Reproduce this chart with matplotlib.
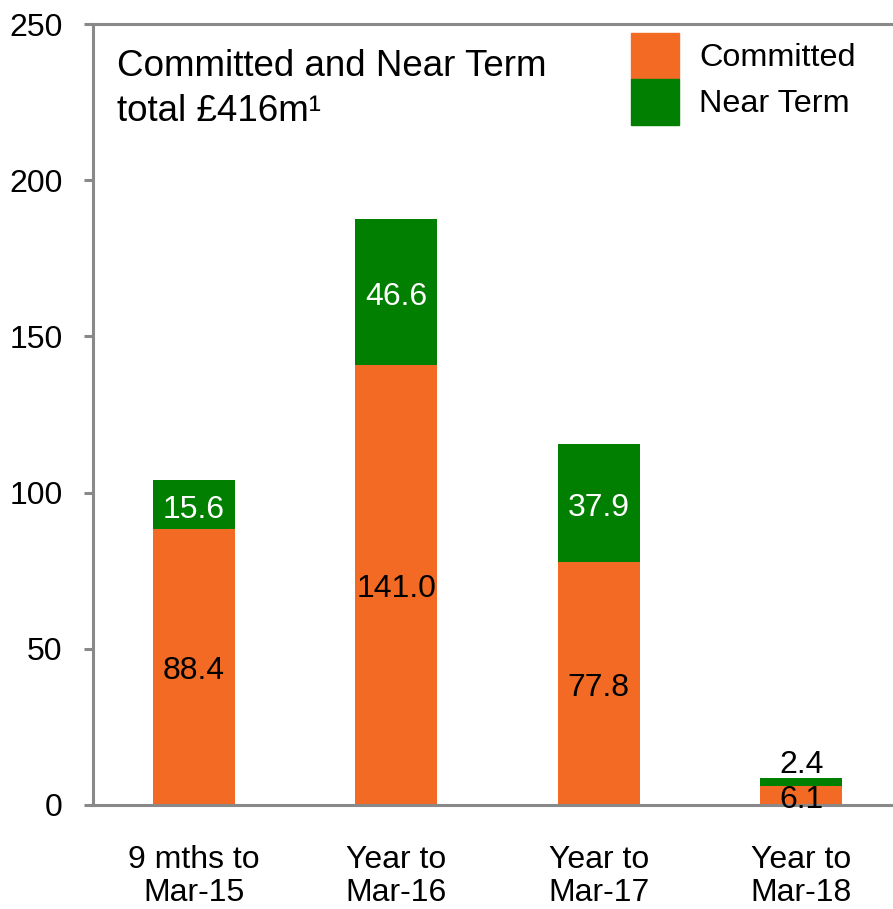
import matplotlib.pyplot as plt
from matplotlib.patches import Patch

plt.rcParams['font.family'] = ['Liberation Sans', 'DejaVu Sans']

periods = ['9 mths to\nMar-15', 'Year to\nMar-16', 'Year to\nMar-17', 'Year to\nMar-18']
committed = [88.4, 141.0, 77.8, 6.1]
near_term = [15.6, 46.6, 37.9, 2.4]
y_ticks = [0, 50, 100, 150, 200, 250]

ORANGE = '#F26A24'
GREEN = '#007F00'
GREY = '#898989'

W, H = 893, 909
fig = plt.figure(figsize=(W / 100, H / 100), dpi=100)
ax = fig.add_axes([92.5 / W, 104 / H, (W - 92.5) / W, 781 / H])

x = range(len(periods))
bw = 0.405
ax.bar(x, committed, width=bw, color=ORANGE, zorder=2)
ax.bar(x, near_term, width=bw, bottom=committed, color=GREEN, zorder=2)

# value labels: committed in black, near term in white inside the segment
lbl = dict(ha='center', fontsize=23, textcoords='offset points', zorder=3)
for i, (c, n) in enumerate(zip(committed, near_term)):
    ax.annotate(f'{c:.1f}', (i, c / 2), xytext=(0, -3), va='center', color='black', **lbl)
    if n > 5:
        ax.annotate(f'{n:.1f}', (i, c + n / 2), xytext=(0, -4), va='center', color='white', **lbl)
    else:
        ax.annotate(f'{n:.1f}', (i, c + n), xytext=(0, 4), va='baseline', color='black', **lbl)

ax.set_xlim(-0.5, -0.5 + (W - 92.5) / 202.5)
ax.set_ylim(0, 250)
ax.set_yticks(y_ticks)
ax.set_xticks(list(x))
ax.set_xticklabels(periods, fontsize=23, linespacing=1.1)
ax.tick_params(axis='y', labelsize=23, length=6.5, width=2.2, color=GREY, pad=15)
ax.tick_params(axis='x', length=0, pad=29)

for side in ['left', 'bottom', 'top']:
    ax.spines[side].set_color(GREY)
    ax.spines[side].set_linewidth(2.2)
ax.spines['right'].set_visible(False)

fig.text(117 / W, 1 - 76 / H, 'Committed and Near Term', fontsize=26.5, ha='left', va='baseline')
fig.text(117 / W, 1 - 121 / H, 'total £416m¹', fontsize=26.5, ha='left', va='baseline')

fs = 23.3 * 100 / 72
hh = (46 / fs - 0.245) / 0.65
handles = [Patch(color=ORANGE, label='Committed'), Patch(color=GREEN, label='Near Term')]
fig.legend(handles=handles, loc='upper left', bbox_to_anchor=(631 / W, 1 - 33 / H),
           frameon=False, fontsize=23.3, borderpad=0, labelspacing=0,
           handlelength=48 / fs, handleheight=hh, handletextpad=20 / fs,
           borderaxespad=0)

fig.savefig('out.png', dpi=100)
